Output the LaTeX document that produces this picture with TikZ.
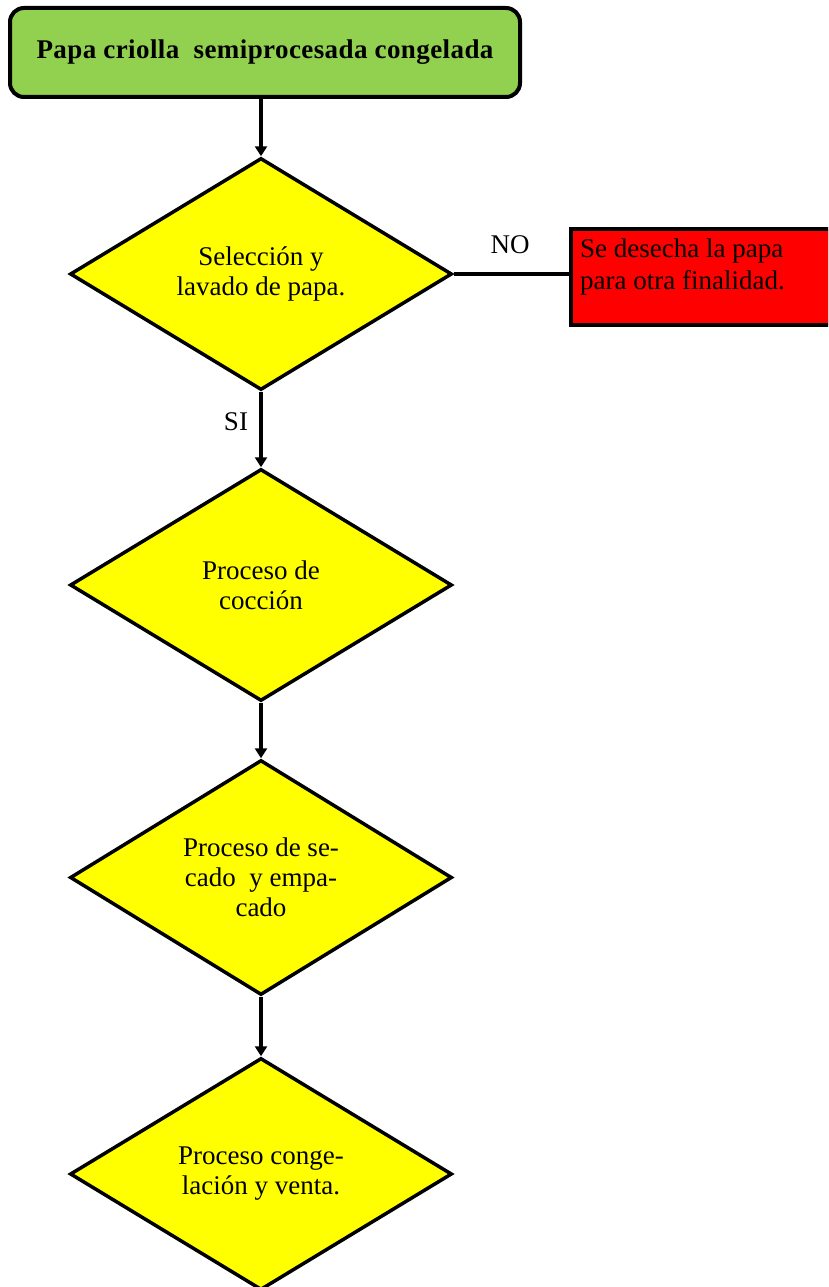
\documentclass[tikz,border=0pt]{standalone}
\usepackage{fontspec}
\setmainfont{Liberation Serif}
\newfontfamily\titlefont[LetterSpace=1.5]{Liberation Serif}
\usetikzlibrary{shapes.geometric,arrows.meta}
\definecolor{boxgreen}{RGB}{146,208,80}
\definecolor{dyellow}{RGB}{255,255,0}
\definecolor{boxred}{RGB}{255,0,0}
\tikzset{
  decision/.style={diamond, draw=black, line width=3.5pt, fill=dyellow, inner sep=0pt,
    minimum width=382pt, minimum height=232pt, align=center,
    font=\fontsize{27}{30}\selectfont},
  startbox/.style={rectangle, rounded corners=14pt, draw=black, line width=4pt, fill=boxgreen,
    minimum width=510pt, minimum height=89pt, font=\titlefont\fontsize{27}{30}\selectfont\bfseries},
  rejectbox/.style={rectangle, draw=black, line width=3.5pt, fill=boxred,
    minimum width=259pt, minimum height=96pt, inner sep=0pt},
  plaintext/.style={inner sep=0pt, font=\fontsize{27}{32}\selectfont},
  flow/.style={line width=3.5pt, -{Triangle[width=12pt,length=10pt]}},
  plainflow/.style={line width=3.5pt}
}
\begin{document}
\begin{tikzpicture}[x=1pt,y=-1pt]
\useasboundingbox (0,0) rectangle (828,1287);
\clip (0,0) rectangle (828,1287);
\node[startbox] (title) at (265,52.5) {Papa criolla\ \ semiprocesada congelada};
\node[decision] (d1) at (261,274) {Selección y\\lavado de papa.};
\node[rejectbox] (red) at (700.5,277) {};
\node[plaintext, anchor=north west, align=left] (redtext) at (580,239) {Se desecha la papa\\para otra finalidad.};
\node[decision] (d2) at (261,585) {Proceso de\\cocción};
\node[decision] (d3) at (261,877.5) {Proceso de se-\\cado\ \ y empa-\\cado};
\node[decision] (d4) at (261,1174) {Proceso conge-\\lación y venta.};
\node[plaintext] (nolab) at (510,245) {NO};
\node[plaintext] (silab) at (236,422) {SI};
\draw[flow] (d1.north |- title.south) -- (d1.north);
\draw[plainflow] (d1.east) -- (d1.east -| red.west);
\draw[flow] (d1.south) -- (d2.north);
\draw[flow] (d2.south) -- (d3.north);
\draw[flow] (d3.south) -- (d4.north);
\end{tikzpicture}
\end{document}
